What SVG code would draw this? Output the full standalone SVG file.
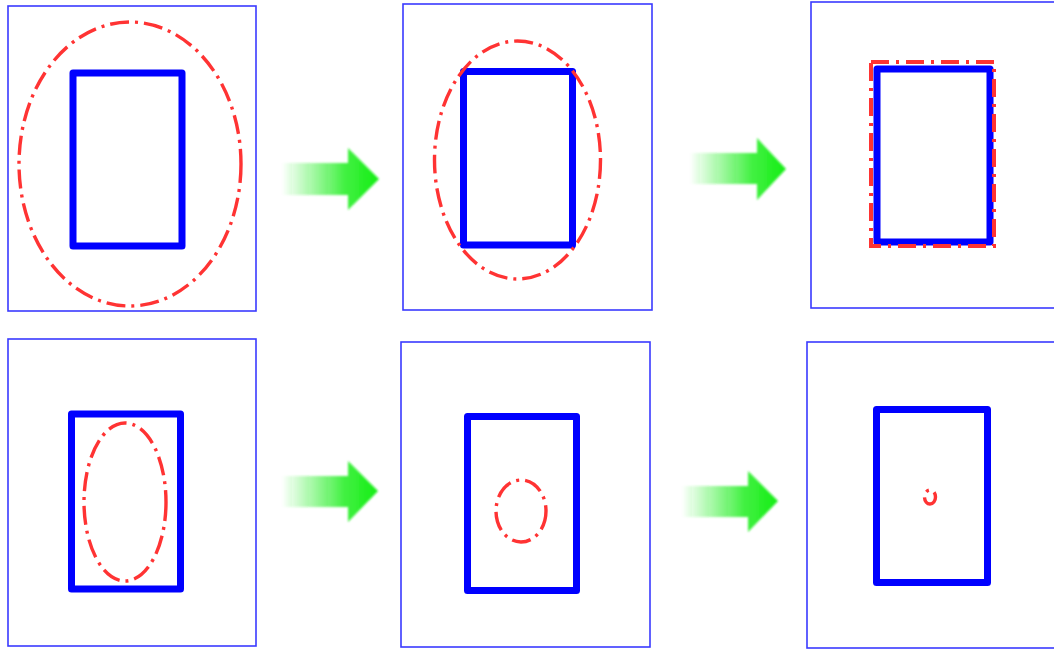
<svg xmlns="http://www.w3.org/2000/svg" width="1054" height="655" viewBox="0 0 1054 655">
  <defs>
    <linearGradient id="arrowFade" x1="0" y1="0" x2="1" y2="0">
      <stop offset="0" stop-color="#22ee22" stop-opacity="0"/>
      <stop offset="0.65" stop-color="#22ee22" stop-opacity="0.85"/>
      <stop offset="1" stop-color="#11ee11" stop-opacity="1"/>
    </linearGradient>
    <filter id="soft" x="-10%" y="-10%" width="120%" height="120%">
      <feGaussianBlur stdDeviation="0.8"/>
    </filter>
  </defs>
  <style>
    .frame { fill: #ffffff; stroke: #3a3aff; stroke-width: 1.6; }
    .box { fill: none; stroke: #0000ff; stroke-width: 7; stroke-linejoin: round; }
    .bound { fill: none; stroke: #ff3333; stroke-width: 3.4; stroke-dasharray: 19 6 3 6; }
    .boundRect { fill: none; stroke: #ff3333; stroke-width: 4; stroke-dasharray: 18 7 3 7; }
    .arrow { fill: url(#arrowFade); filter: url(#soft); }
  </style>
  <rect width="1054" height="655" fill="#ffffff"/>

  <!-- stage 1: large ellipse around the box -->
  <g id="stage1">
    <rect class="frame" x="8" y="6" width="248" height="305"/>
    <rect class="box" x="73" y="73" width="109" height="173"/>
    <ellipse class="bound" cx="130" cy="164" rx="111" ry="142"/>
  </g>

  <!-- stage 2: ellipse tightened -->
  <g id="stage2">
    <rect class="frame" x="403" y="4" width="249" height="306"/>
    <rect class="box" x="463.5" y="71.5" width="109" height="173.5"/>
    <ellipse class="bound" cx="517.5" cy="160" rx="83" ry="119"/>
  </g>

  <!-- stage 3: bounding rectangle -->
  <g id="stage3">
    <rect class="frame" x="811" y="2" width="260" height="306"/>
    <rect class="box" x="877" y="69" width="113" height="173"/>
    <rect class="boundRect" x="871" y="62" width="123" height="184"/>
  </g>

  <!-- stage 4: inner ellipse -->
  <g id="stage4">
    <rect class="frame" x="8" y="339" width="248" height="307"/>
    <rect class="box" x="71.5" y="414" width="109" height="175"/>
    <ellipse class="bound" cx="125" cy="502" rx="41" ry="79"/>
  </g>

  <!-- stage 5: smaller inner ellipse -->
  <g id="stage5">
    <rect class="frame" x="401" y="342" width="249" height="305"/>
    <rect class="box" x="467.5" y="416.5" width="109" height="174"/>
    <ellipse class="bound" cx="521" cy="511" rx="25" ry="31"/>
  </g>

  <!-- stage 6: collapsed ellipse -->
  <g id="stage6">
    <rect class="frame" x="807" y="342" width="260" height="306"/>
    <rect class="box" x="876.5" y="409.5" width="111" height="173"/>
    <ellipse class="bound" cx="930" cy="497" rx="5.5" ry="7" stroke-dasharray="0 7 2.5 5.5 25 100"/>
  </g>

  <!-- transition arrows -->
  <g id="connectors">
    <polygon class="arrow" points="282,163 348,163 348,148 379,179 348,210 348,195 282,195"/>
    <polygon class="arrow" points="690,153 757,153 757,138 786,169 757,200 757,184 690,184"/>
    <polygon class="arrow" points="282,476 348,476 348,461 378,491 348,522 348,507 282,507"/>
    <polygon class="arrow" points="682,486 748,486 748,471 778,501 748,532 748,517 682,517"/>
  </g>
</svg>
